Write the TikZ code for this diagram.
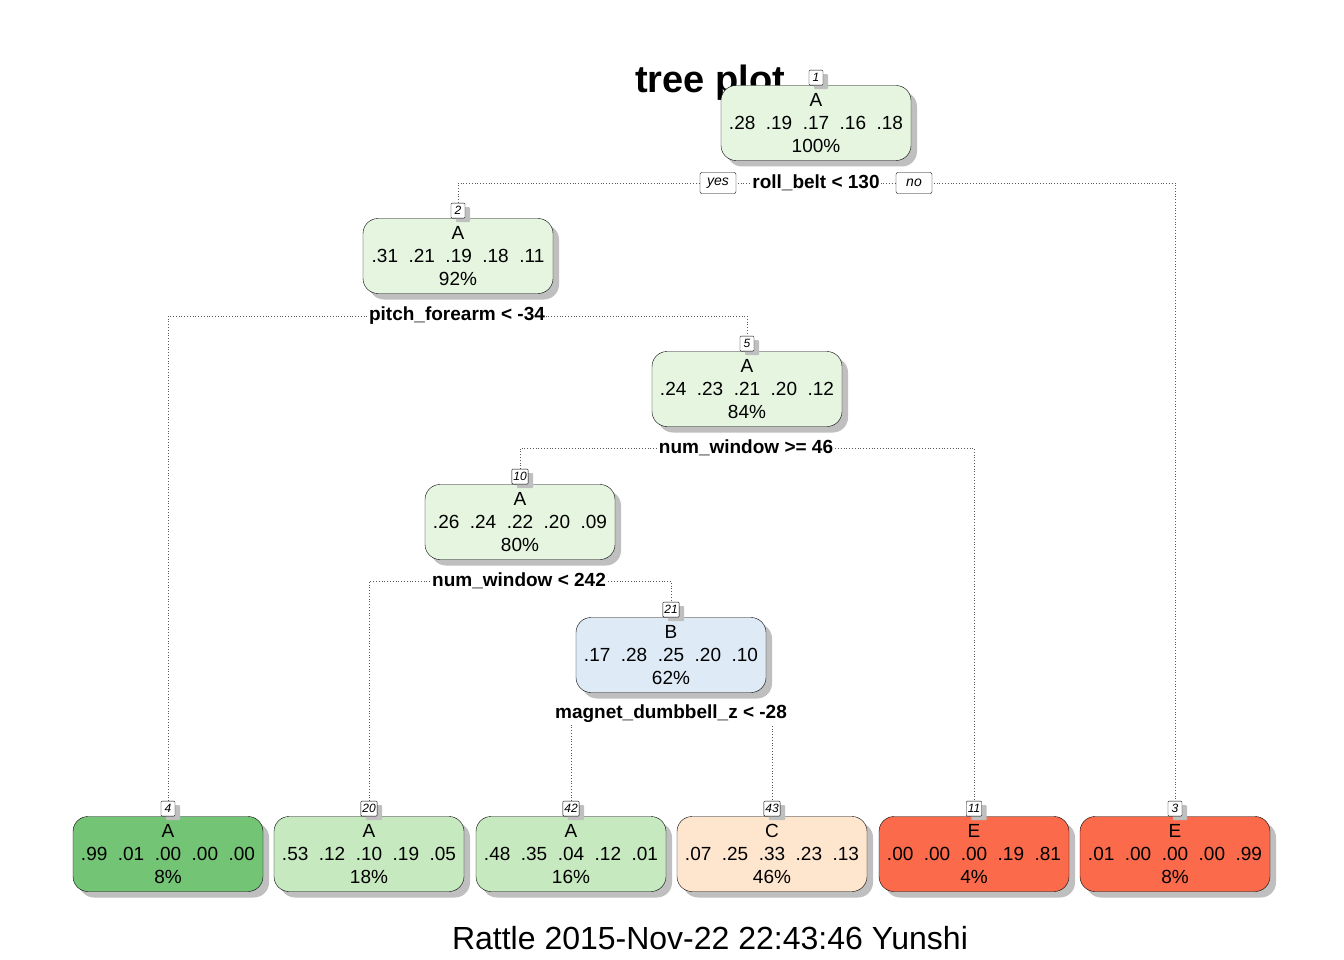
\documentclass[tikz,border=0pt]{standalone}
\usepackage{fontspec}
\setmainfont{Liberation Sans}
\usetikzlibrary{positioning,shadows,backgrounds}

\definecolor{pale}{HTML}{E5F5E0}
\definecolor{lightgrn}{HTML}{C7E9C0}
\definecolor{midgrn}{HTML}{74C476}
\definecolor{paleblue}{HTML}{DEEBF7}
\definecolor{peach}{HTML}{FEE6CE}
\definecolor{tomato}{HTML}{FB6A4A}

\newcommand{\probs}[5]{#1\hskip 10.5pt #2\hskip 10.5pt #3\hskip 10.5pt #4\hskip 10.5pt #5}

\tikzset{
  treebox/.style={draw, rounded corners=15pt, minimum width=190pt, minimum height=75pt,
    inner sep=0pt, align=center, font=\fontsize{19}{23}\selectfont,
    drop shadow={shadow xshift=6pt, shadow yshift=-6pt, fill=black!25, opacity=1}},
  numbox/.style={draw, fill=white, rounded corners=1pt, inner sep=1.5pt,
    minimum width=14pt, minimum height=15pt, font=\fontsize{12}{12}\selectfont\itshape,
    drop shadow={shadow xshift=5pt, shadow yshift=-4pt, fill=black!25, opacity=1}},
  rule/.style={fill=white, inner sep=1.5pt, font=\fontsize{19}{19}\selectfont\bfseries},
  answer/.style={draw, fill=white, rounded corners=2pt, inner sep=1pt,
    minimum width=36pt, minimum height=21pt, font=\fontsize{14}{14}\selectfont\itshape},
  link/.style={dotted, line width=0.8pt, black!65}
}

\begin{document}
\begin{tikzpicture}[x=1pt, y=-1pt]
\useasboundingbox (0,0) rectangle (1344,960);
% Title and footer
\node[anchor=base, font=\fontsize{38}{38}\selectfont\bfseries] (title) at (710,93) {tree plot};
\node[anchor=base, font=\fontsize{32}{32}\selectfont] (footer) at (710,949) {Rattle 2015-Nov-22 22:43:46 Yunshi};
% Inner nodes
\node[treebox, fill=pale] (n1) at (816,123) {A\\\probs{.28}{.19}{.17}{.16}{.18}\\100\%};
\node[treebox, fill=pale] (n2) at (458,256) {A\\\probs{.31}{.21}{.19}{.18}{.11}\\92\%};
\node[treebox, fill=pale] (n5) at (747,389) {A\\\probs{.24}{.23}{.21}{.20}{.12}\\84\%};
\node[treebox, fill=pale] (n10) at (520,522) {A\\\probs{.26}{.24}{.22}{.20}{.09}\\80\%};
\node[treebox, fill=paleblue] (n21) at (671,655) {B\\\probs{.17}{.28}{.25}{.20}{.10}\\62\%};
% Leaves
\node[treebox, fill=midgrn] (n4) at (168,854) {A\\\probs{.99}{.01}{.00}{.00}{.00}\\8\%};
\node[treebox, fill=lightgrn] (n20) at (369,854) {A\\\probs{.53}{.12}{.10}{.19}{.05}\\18\%};
\node[treebox, fill=lightgrn] (n42) at (571,854) {A\\\probs{.48}{.35}{.04}{.12}{.01}\\16\%};
\node[treebox, fill=peach] (n43) at (772,854) {C\\\probs{.07}{.25}{.33}{.23}{.13}\\46\%};
\node[treebox, fill=tomato] (n11) at (974,854) {E\\\probs{.00}{.00}{.00}{.19}{.81}\\4\%};
\node[treebox, fill=tomato] (n3) at (1175,854) {E\\\probs{.01}{.00}{.00}{.00}{.99}\\8\%};
% Node numbers
\foreach \k in {1,2,5,10,21,4,20,42,43,11,3}
  \node[numbox, above=0pt of n\k] (l\k) {\k};
% Split rules
\node[rule] (r1) at (816,183) {roll\_belt < 130};
\node[rule] (r2) at (457,316) {pitch\_forearm < -34};
\node[rule] (r5) at (746,448) {num\_window >= 46};
\node[rule] (r10) at (519,581) {num\_window < 242};
\node[rule] (r21) at (671,714) {magnet\_dumbbell\_z < -28};
\node[answer] (yes) at (718,183) {yes};
\node[answer] (no) at (914,183) {no};
% Connectors
\begin{scope}[on background layer]
\draw[link] (l2.north) |- (r1.center) -| (l3.north);
\draw[link] (l4.north) |- (r2.center) -| (l5.north);
\draw[link] (l10.north) |- (r5.center) -| (l11.north);
\draw[link] (l20.north) |- (r10.center) -| (l21.north);
\draw[link] (l42.north) |- (r21.center) -| (l43.north);
\end{scope}
\end{tikzpicture}
\end{document}
